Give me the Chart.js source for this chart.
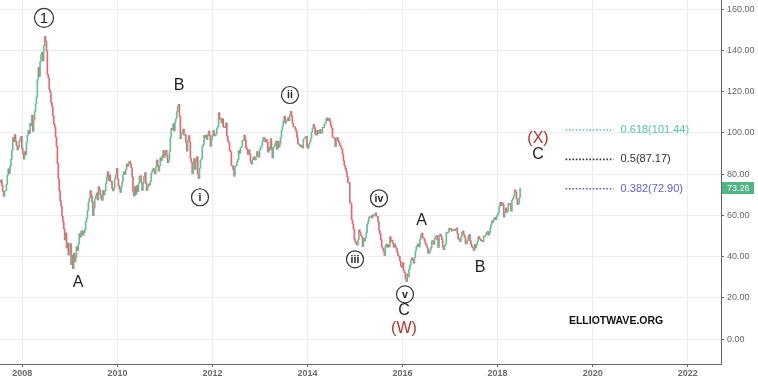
<!DOCTYPE html>
<html>
<head>
<meta charset="utf-8">
<title>Crude oil weekly – Elliott wave count</title>
<script src="https://cdn.jsdelivr.net/npm/chart.js@4.4.1/dist/chart.umd.min.js"></script>
<style>
  html, body { margin: 0; padding: 0; background: #fff; }
  #wrap { width: 758px; height: 382px; }
</style>
</head>
<body>
<div id="wrap"><canvas id="chart" width="758" height="382"></canvas></div>
<script>
// Weekly crude oil candles, mid-2007 → mid-2018, with an Elliott wave count.
// Values; open of each candle = previous close.

// ---------- data ----------
var FIRST_WEEK = 2007.53;       // decimal year of the first candle
var WEEK = 7 / 365.25;          // one week in years
var FIRST_OPEN = 76.8;

var weeklyClose = [
  76.0, 77.2, 74.5, 71.6, 69.3, 71.8, 72.1, 75.0, 79.5, 82.6,
  80.4, 83.9, 87.2, 91.5, 97.8, 95.6, 99.2, 96.1, 94.0, 91.8,
  93.0, 95.8, 97.3, 98.4, 92.5, 90.1, 87.3, 91.0, 89.4, 95.2,
  98.8, 101.3, 99.6, 104.7, 103.5, 108.6, 100.8, 106.2, 110.4, 114.0,
  117.5, 125.6, 131.8, 127.4, 134.6, 138.2, 139.1, 135.0, 142.3, 146.8,
  144.5, 139.8, 128.4, 126.7, 121.2, 119.5, 114.8, 112.6, 108.3, 104.5,
  102.8, 98.0, 93.5, 85.2, 77.7, 71.9, 67.2, 64.5, 59.6, 56.8,
  53.4, 48.1, 51.5, 44.2, 46.6, 40.8, 42.4, 46.3, 36.1, 40.8,
  34.2, 41.7, 37.5, 39.6, 44.8, 42.9, 46.3, 51.1, 49.4, 52.4,
  52.5, 50.3, 51.6, 53.2, 56.9, 58.6, 62.4, 66.3, 68.4, 72.0,
  69.6, 66.7, 59.9, 63.6, 68.1, 69.5, 70.9, 67.5, 73.9, 72.7,
  70.0, 68.0, 67.3, 72.0, 69.9, 71.8, 75.4, 78.5, 81.2, 77.0,
  79.6, 76.4, 76.7, 73.1, 71.9, 73.4, 78.1, 79.4, 82.8, 77.6,
  74.5, 72.9, 71.2, 74.1, 76.4, 79.7, 81.1, 80.0, 82.4, 84.9,
  83.8, 85.4, 86.3, 84.9, 83.1, 78.6, 71.6, 69.4, 73.9, 70.2,
  74.6, 71.5, 75.3, 78.9, 79.2, 76.1, 72.1, 76.0, 78.9, 80.7,
  75.4, 72.1, 73.7, 75.2, 74.7, 76.5, 80.5, 81.6, 82.7, 81.5,
  80.2, 83.6, 86.9, 84.3, 81.5, 84.1, 88.0, 86.7, 89.1, 91.4,
  88.0, 89.5, 91.5, 89.1, 85.6, 86.7, 91.0, 97.9, 102.2, 101.6,
  104.4, 101.0, 105.4, 106.9, 110.3, 112.8, 113.9, 108.0, 97.2, 99.6,
  100.5, 101.9, 98.9, 99.2, 95.4, 91.2, 96.2, 98.7, 95.7, 87.6,
  85.9, 80.2, 85.3, 87.6, 82.3, 86.4, 88.5, 80.1, 77.9, 82.9,
  86.8, 87.4, 93.3, 94.3, 98.9, 97.7, 99.0, 96.8, 99.0, 100.9,
  98.7, 93.5, 96.6, 98.8, 101.3, 98.5, 98.7, 99.6, 102.3, 103.2,
  109.8, 106.7, 107.1, 104.9, 106.9, 103.0, 102.5, 103.3, 104.9, 98.5,
  96.1, 95.1, 91.5, 90.9, 84.3, 83.9, 82.1, 79.0, 84.0, 84.2,
  86.0, 87.1, 91.4, 90.1, 92.9, 93.2, 96.3, 96.2, 99.0, 96.6,
  92.9, 91.9, 89.6, 91.9, 89.7, 85.9, 84.9, 86.9, 88.3, 87.2,
  86.9, 88.7, 91.0, 88.7, 88.3, 91.8, 93.1, 93.6, 95.9, 97.8,
  97.5, 95.6, 96.9, 95.7, 90.7, 93.1, 91.6, 97.2, 92.5, 87.9,
  92.9, 93.6, 95.0, 96.0, 92.0, 96.0, 93.1, 94.4, 97.9, 101.2,
  103.2, 105.9, 108.1, 104.7, 105.7, 106.5, 107.5, 105.9, 108.5, 110.5,
  108.2, 104.7, 102.9, 103.0, 102.0, 100.8, 97.8, 94.6, 94.6, 93.8,
  93.3, 94.1, 92.7, 97.0, 97.3, 98.0, 98.4, 93.2, 92.6, 94.6,
  95.7, 97.5, 100.3, 102.2, 104.1, 102.6, 99.4, 98.9, 101.3, 99.7,
  100.6, 101.6, 99.8, 100.0, 102.7, 102.6, 104.4, 104.8, 106.9, 107.3,
  106.0, 107.0, 105.7, 103.7, 102.3, 97.9, 97.9, 97.4, 93.4, 96.1,
  97.7, 96.3, 95.3, 94.0, 93.2, 92.1, 89.7, 86.5, 84.2, 82.8,
  81.3, 78.7, 75.8, 76.0, 66.2, 65.8, 57.8, 55.9, 53.3, 48.4,
  47.2, 46.1, 45.6, 48.2, 53.0, 51.7, 50.3, 49.6, 44.8, 48.9,
  47.6, 49.1, 51.6, 55.7, 57.2, 59.1, 59.6, 59.7, 58.7, 60.3,
  59.7, 60.1, 61.2, 59.6, 59.6, 56.9, 52.7, 50.9, 48.1, 44.7,
  43.9, 42.5, 40.5, 45.2, 46.1, 44.6, 45.7, 44.7, 49.6, 47.3,
  48.0, 46.6, 44.6, 46.1, 44.7, 43.9, 42.0, 40.4, 40.1, 37.9,
  35.6, 34.7, 37.1, 33.2, 32.2, 29.4, 27.9, 31.7, 30.1, 33.8,
  35.9, 38.5, 39.4, 38.3, 36.8, 39.5, 42.7, 44.7, 45.9, 46.2,
  44.7, 48.4, 50.6, 51.4, 49.1, 48.9, 47.6, 46.2, 45.4, 44.2,
  41.6, 41.8, 43.2, 44.5, 47.7, 47.6, 45.9, 48.5, 49.8, 50.2,
  48.2, 44.5, 50.3, 50.9, 49.8, 48.3, 44.8, 43.4, 45.3, 46.1,
  51.7, 51.5, 52.0, 53.9, 53.7, 53.0, 52.4, 53.2, 53.2, 52.6,
  53.4, 53.9, 51.2, 48.5, 48.8, 47.3, 49.5, 51.8, 52.4, 50.6,
  49.3, 46.2, 46.2, 47.8, 49.9, 50.7, 47.7, 45.8, 44.7, 44.2,
  43.0, 46.0, 44.2, 45.8, 47.4, 49.7, 48.7, 48.5, 47.6, 47.9,
  47.3, 49.9, 49.8, 50.6, 51.7, 52.2, 50.4, 51.4, 53.9, 55.6,
  57.4, 56.7, 58.4, 58.9, 57.9, 59.4, 60.4, 61.4, 64.3, 66.3,
  64.7, 66.1, 65.5, 59.2, 61.7, 63.6, 61.3, 62.3, 65.9, 65.9,
  64.9, 62.1, 67.4, 68.3, 69.7, 72.4, 71.3, 67.9, 65.2, 65.7, 68.6, 73.26
];

var yearTicks = [2008, 2010, 2012, 2014, 2016, 2018, 2020, 2022];
var priceTicks = [0, 20, 40, 60, 80, 100, 120, 140, 160];
var lastPrice = 73.26;

// fibonacci projection levels
var fibLabels = ['0.618(101.44)', '0.5(87.17)', '0.382(72.90)'];
var fibValues = [101.44, 87.17, 72.90];
var fibFrom = 2019.43;
var fibTo = 2020.44;

// wave count labels (year, price where the label sits)
var waveText   = ['1', 'A', 'B', 'i', 'ii', 'iii', 'iv', 'v', 'C', '(W)', 'A', 'B', '(X)', 'C'];
var waveYear   = [2008.456, 2009.171, 2011.296, 2011.738, 2013.631, 2014.999, 2015.504, 2016.051,
                  2016.030, 2016.030, 2016.402, 2017.629, 2018.849, 2018.849];
var wavePrice  = [155.8, 27.2, 123.2, 68.8, 118.4, 38.7, 68.3, 21.7, 13.8, 5.2, 57.4, 34.8, 97.5, 89.3];
var waveCircled = ['1', 'i', 'ii', 'iii', 'iv', 'v'];
var waveDegreeX = ['(W)', '(X)'];

// ---------- styles ----------
var UP = '#62c195';
var DOWN = '#e9656f';
var GRID = '#eaeef4';
var FIB_COLORS = ['#55c9a3', '#333333', '#5b5ee0'];
var FONT = '"Liberation Sans", Arial, sans-serif';

// ---------- build datasets ----------
var candles = weeklyClose.map(function (c, i) {
  var o = i === 0 ? FIRST_OPEN : weeklyClose[i - 1];
  return { x: FIRST_WEEK + i * WEEK, y: [o, c] };
});

var datasets = [{
  type: 'bar',
  data: candles,
  barThickness: 1,
  borderWidth: 0,
  grouped: false,
  backgroundColor: function (ctx) {
    var r = ctx.raw;
    return r && r.y[1] >= r.y[0] ? UP : DOWN;
  }
}];

fibValues.forEach(function (v, k) {
  datasets.push({
    type: 'line',
    data: [{ x: fibFrom, y: v }, { x: fibTo, y: v }],
    borderColor: FIB_COLORS[k],
    borderWidth: 1.6,
    borderDash: [1.6, 1.8],
    pointRadius: 0,
    fill: false
  });
});

// ---------- overlay: wave labels, fib texts, price tag, watermark ----------
var overlay = {
  id: 'overlay',
  afterDraw: function (chart) {
    var ctx = chart.ctx;
    var xs = chart.scales.x, ys = chart.scales.y;
    ctx.save();
    ctx.textAlign = 'center';
    ctx.textBaseline = 'middle';

    waveText.forEach(function (t, k) {
      var px = xs.getPixelForValue(waveYear[k]);
      var py = ys.getPixelForValue(wavePrice[k]);
      if (waveCircled.indexOf(t) >= 0) {
        var r = t === '1' ? 9.5 : 8.5;
        ctx.beginPath();
        ctx.arc(px, py, r, 0, Math.PI * 2);
        ctx.fillStyle = '#fff';
        ctx.fill();
        ctx.lineWidth = 1.2;
        ctx.strokeStyle = '#333';
        ctx.stroke();
        ctx.fillStyle = '#222';
        ctx.font = t === '1' ? '15px ' + FONT : 'bold 10.5px ' + FONT;
        ctx.fillText(t, px, py + 0.5);
      } else {
        ctx.fillStyle = waveDegreeX.indexOf(t) >= 0 ? '#b5312e' : '#1e1e1e';
        ctx.font = '16px ' + FONT;
        ctx.fillText(t, px, py);
      }
    });

    ctx.textAlign = 'left';
    ctx.font = '11px ' + FONT;
    fibLabels.forEach(function (t, k) {
      ctx.fillStyle = FIB_COLORS[k];
      ctx.fillText(t, xs.getPixelForValue(fibTo) + 7, ys.getPixelForValue(fibValues[k]));
    });

    // last price tag on the axis
    var ty = ys.getPixelForValue(lastPrice);
    ctx.fillStyle = '#4fb583';
    ctx.fillRect(ys.left + 1, Math.round(ty) - 6, 32, 12);
    ctx.fillStyle = '#fff';
    ctx.font = '9px ' + FONT;
    ctx.fillText(lastPrice.toFixed(2), ys.left + 6, ty + 0.5);

    // watermark
    ctx.fillStyle = '#111';
    ctx.font = 'bold 10.5px ' + FONT;
    ctx.fillText('ELLIOTWAVE.ORG', xs.getPixelForValue(2019.5), ys.getPixelForValue(8.7));

    ctx.restore();
  }
};

new Chart(document.getElementById('chart'), {
  type: 'bar',
  data: { datasets: datasets },
  plugins: [overlay],
  options: {
    responsive: false,
    animation: false,
    events: [],
    devicePixelRatio: 1,
    layout: { padding: 0 },
    plugins: { legend: { display: false }, tooltip: { enabled: false } },
    scales: {
      x: {
        type: 'linear',
        position: 'bottom',
        min: 2007.53,
        max: 2022.7,
        offset: false,
        afterBuildTicks: function (s) { s.ticks = yearTicks.map(function (v) { return { value: v }; }); },
        afterFit: function (s) { s.height = 18; s.paddingLeft = 0; s.paddingRight = 0; },
        grid: { color: GRID, offset: false, tickColor: '#666', tickLength: 3 },
        border: { display: true, color: '#666' },
        ticks: {
          autoSkip: false, maxRotation: 0, padding: 1,
          color: '#6a6a6a', font: { family: FONT, size: 9, weight: 'bold' },
          callback: function (v) { return String(v); }
        }
      },
      y: {
        type: 'linear',
        position: 'right',
        min: -12.1,
        max: 164.5,
        afterBuildTicks: function (s) { s.ticks = priceTicks.map(function (v) { return { value: v }; }); },
        afterFit: function (s) { s.width = 37; s.paddingTop = 0; s.paddingBottom = 0; },
        grid: { color: GRID, tickColor: '#666', tickLength: 3 },
        border: { display: true, color: '#666' },
        ticks: {
          padding: 3,
          color: '#666', font: { family: FONT, size: 9 },
          callback: function (v) { return v.toFixed(2); }
        }
      }
    }
  }
});
</script>
</body>
</html>
